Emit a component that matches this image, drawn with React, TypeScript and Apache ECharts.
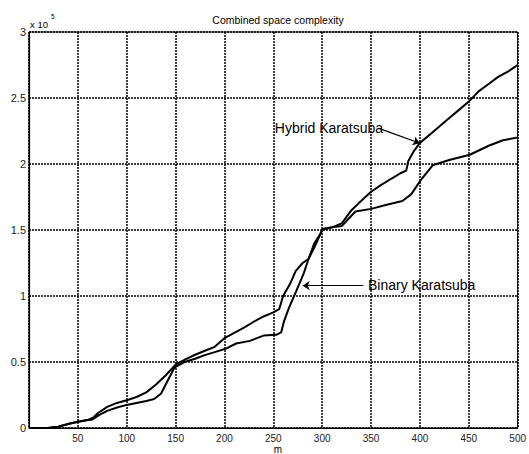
import React, { useEffect, useRef } from "react";
import * as echarts from "echarts";

const FONT = '"Liberation Sans", Arial, sans-serif';

const hybridM = [2, 10, 20, 30, 40, 50, 60, 66, 70, 80, 90, 100, 110, 120, 130, 140, 150, 160, 170, 180, 190, 200, 210, 220, 230, 240, 250, 256, 260, 267, 273, 280, 286, 294, 300, 310, 320, 330, 337, 350, 360, 371, 380, 386, 388, 394, 400, 413, 427, 440, 451, 460, 471, 480, 490, 500];
const hybridV = [0, 0, 200, 1000, 3000, 4800, 6000, 8000, 11000, 16000, 19000, 21000, 23500, 27000, 33000, 40000, 48000, 52000, 55500, 58500, 61500, 68000, 72000, 76000, 80500, 84500, 87600, 90000, 100000, 109000, 119000, 125000, 128000, 140000, 150000, 152000, 155000, 165000, 170000, 179000, 184000, 189000, 193000, 195000, 202000, 210000, 216000, 224000, 233000, 241000, 248000, 255000, 261000, 266000, 270000, 275000];

const binaryM = [2, 10, 20, 30, 40, 50, 60, 64, 72, 80, 90, 100, 110, 120, 128, 135, 142, 149, 159, 170, 179, 190, 201, 212, 226, 240, 253, 258, 261, 266, 273, 281, 286, 292, 298, 301, 310, 320, 334, 350, 365, 382, 391, 401, 413, 430, 451, 471, 485, 500];
const binaryV = [0, 0, 0, 1000, 3000, 4800, 6000, 6200, 10000, 13000, 15500, 17500, 19000, 20500, 22000, 26000, 36000, 46000, 50000, 52500, 55000, 57500, 60000, 64000, 66000, 70000, 70600, 72400, 81000, 91000, 103000, 117000, 128000, 140000, 147000, 151000, 152000, 153000, 164000, 166000, 169000, 172000, 177000, 188000, 199000, 203000, 207000, 214000, 218000, 220000];

const titleText = "Combined space complexity";
const xLabelText = "m";
const hybridLabel = "Hybrid Karatsuba";
const binaryLabel = "Binary Karatsuba";
// annotation arrows: [startM, startV] -> [tipM, tipV]
const hybridArrow = [[358, 227000], [400, 215700]];
const binaryArrow = [[342, 107800], [280, 107800]];

export default function App() {
  const ref = useRef<HTMLDivElement>(null);
  useEffect(() => {
    if (!ref.current) return;
    const chart = echarts.init(ref.current, null, { renderer: "svg" });
    const hybrid = hybridM.map((m, i) => [m, hybridV[i]]);
    const binary = binaryM.map((m, i) => [m, binaryV[i]]);
    const arrowLine = (a: number[][]) => [
      { coord: a[0], symbol: "none" },
      { coord: a[1], symbol: "arrow", symbolSize: 7 },
    ];
    const gridLine = { show: true, lineStyle: { color: "#000", width: 1.5, type: [2, 1] } };
    chart.setOption({
      animation: false,
      backgroundColor: "#fff",
      grid: {
        left: 29,
        right: 4,
        top: 32,
        bottom: 26,
        show: true,
        borderColor: "#000",
        borderWidth: 1,
        containLabel: false,
      },
      xAxis: {
        type: "value",
        min: 0,
        max: 500,
        interval: 50,
        axisLine: { show: true, lineStyle: { color: "#000", width: 1.2 } },
        axisTick: { show: false },
        axisLabel: {
          color: "#222",
          fontSize: 10,
          fontFamily: FONT,
          margin: 5,
          formatter: (v: number) => (v === 0 ? "" : String(v)),
        },
        splitLine: gridLine,
      },
      yAxis: {
        type: "value",
        min: 0,
        max: 300000,
        interval: 50000,
        axisLine: { show: true, lineStyle: { color: "#000", width: 1.2 } },
        axisTick: { show: false },
        axisLabel: {
          color: "#222",
          fontSize: 11,
          fontFamily: FONT,
          margin: 3,
          formatter: (v: number) => String(v / 100000),
        },
        splitLine: gridLine,
      },
      series: [
        {
          name: hybridLabel,
          type: "line",
          data: hybrid,
          showSymbol: false,
          lineStyle: { color: "#000", width: 2 },
          markLine: {
            silent: true,
            symbol: ["none", "arrow"],
            label: { show: false },
            lineStyle: { color: "#000", width: 1.2, type: "solid" },
            data: [arrowLine(hybridArrow)],
          },
        },
        {
          name: binaryLabel,
          type: "line",
          data: binary,
          showSymbol: false,
          lineStyle: { color: "#000", width: 2 },
          markLine: {
            silent: true,
            symbol: ["none", "arrow"],
            label: { show: false },
            lineStyle: { color: "#000", width: 1.2, type: "solid" },
            data: [arrowLine(binaryArrow)],
          },
        },
      ],
      graphic: [
        {
          type: "text",
          x: 278,
          y: 20,
          style: {
            text: titleText,
            fontSize: 10.5,
            fontFamily: FONT,
            fill: "#000",
            align: "center",
            verticalAlign: "middle",
          },
        },
        {
          type: "text",
          x: 30,
          y: 19,
          style: { text: "x 10", fontSize: 9.5, fontFamily: FONT, fill: "#000" },
        },
        {
          type: "text",
          x: 51,
          y: 13,
          style: { text: "5", fontSize: 6.5, fontFamily: FONT, fill: "#000" },
        },
        {
          type: "text",
          x: 278,
          y: 444,
          style: {
            text: xLabelText,
            fontSize: 10,
            fontFamily: FONT,
            fill: "#000",
            align: "center",
            verticalAlign: "top",
          },
        },
        {
          type: "text",
          x: 383,
          y: 128,
          style: {
            text: hybridLabel,
            fontSize: 14,
            fontFamily: FONT,
            fill: "#000",
            align: "right",
            verticalAlign: "middle",
          },
        },
        {
          type: "text",
          x: 368,
          y: 285,
          style: {
            text: binaryLabel,
            fontSize: 14,
            fontFamily: FONT,
            fill: "#000",
            align: "left",
            verticalAlign: "middle",
          },
        },
      ],
    });
    return () => chart.dispose();
  }, []);
  return (
    <div
      ref={ref}
      style={{ position: "fixed", left: 0, top: 0, width: 529, height: 454, background: "#fff" }}
    />
  );
}
